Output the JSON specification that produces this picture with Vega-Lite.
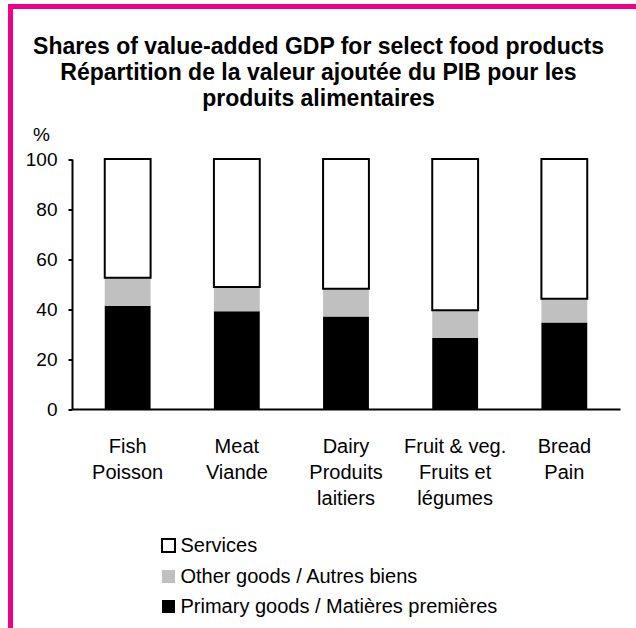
{
  "$schema": "https://vega.github.io/schema/vega-lite/v6.json",
  "autosize": {"type": "none"},
  "width": 636,
  "height": 642,
  "padding": {"left": 10.5, "top": 6.5, "right": -10.5, "bottom": -20.5},
  "background": "white",
  "config": {
    "view": {"stroke": "#EC008C", "strokeWidth": 5, "fill": "white"},
    "font": "Liberation Sans"
  },
  "title": {
    "text": ["Shares of value-added GDP for select food products", "Répartition de la valeur ajoutée du PIB pour les", "produits alimentaires"],
    "font": "Liberation Sans",
    "fontSize": 23,
    "fontWeight": "bold",
    "lineHeight": 26,
    "baseline": "top",
    "offset": -104,
    "anchor": "middle",
    "frame": "group",
    "dx": -10,
    "color": "black"
  },
  "data": {
    "values": [
      {"product": "Fish|Poisson", "series": "Primary goods / Matières premières", "k": 1, "value": 41.3},
      {"product": "Fish|Poisson", "series": "Other goods / Autres biens", "k": 2, "value": 11.2},
      {"product": "Fish|Poisson", "series": "Services", "k": 3, "value": 47.5},
      {"product": "Meat|Viande", "series": "Primary goods / Matières premières", "k": 1, "value": 39.1},
      {"product": "Meat|Viande", "series": "Other goods / Autres biens", "k": 2, "value": 9.7},
      {"product": "Meat|Viande", "series": "Services", "k": 3, "value": 51.2},
      {"product": "Dairy|Produits|laitiers", "series": "Primary goods / Matières premières", "k": 1, "value": 37.0},
      {"product": "Dairy|Produits|laitiers", "series": "Other goods / Autres biens", "k": 2, "value": 11.1},
      {"product": "Dairy|Produits|laitiers", "series": "Services", "k": 3, "value": 51.9},
      {"product": "Fruit & veg.|Fruits et|légumes", "series": "Primary goods / Matières premières", "k": 1, "value": 28.4},
      {"product": "Fruit & veg.|Fruits et|légumes", "series": "Other goods / Autres biens", "k": 2, "value": 11.1},
      {"product": "Fruit & veg.|Fruits et|légumes", "series": "Services", "k": 3, "value": 60.5},
      {"product": "Bread|Pain", "series": "Primary goods / Matières premières", "k": 1, "value": 34.6},
      {"product": "Bread|Pain", "series": "Other goods / Autres biens", "k": 2, "value": 9.5},
      {"product": "Bread|Pain", "series": "Services", "k": 3, "value": 55.9}
    ]
  },
  "mark": {"type": "bar", "stroke": "black"},
  "encoding": {
    "x": {
      "field": "product",
      "type": "nominal",
      "sort": null,
      "scale": {"range": [61.5, 609.5], "paddingInner": 0.58, "paddingOuter": 0.3},
      "axis": {
        "title": null,
        "orient": "bottom",
        "offset": -239.5,
        "labelExpr": "split(datum.label, '|')",
        "labelAngle": 0,
        "labelFont": "Liberation Sans",
        "labelFontSize": 20,
        "labelLineHeight": 26,
        "labelBaseline": "top",
        "labelPadding": 27,
        "labelColor": "black",
        "ticks": false,
        "domainColor": "black",
        "domainWidth": 2,
        "grid": false
      }
    },
    "y": {
      "field": "value",
      "type": "quantitative",
      "stack": "zero",
      "scale": {"domain": [0, 100], "range": [402.5, 152.5], "nice": false, "zero": true},
      "axis": {
        "values": [0, 20, 40, 60, 80, 100],
        "offset": -61.5,
        "title": "%",
        "titleAngle": 0,
        "titleX": -31,
        "titleY": 127.5,
        "titleAlign": "center",
        "titleBaseline": "middle",
        "titleFont": "Liberation Sans",
        "titleFontSize": 19,
        "titleFontWeight": "normal",
        "titleColor": "black",
        "grid": false,
        "domainColor": "black",
        "domainWidth": 2,
        "tickColor": "black",
        "tickWidth": 2,
        "tickSize": 4,
        "labelFont": "Liberation Sans",
        "labelFontSize": 19,
        "labelColor": "black",
        "labelPadding": 11
      }
    },
    "fill": {
      "field": "series",
      "type": "nominal",
      "scale": {
        "domain": ["Services", "Other goods / Autres biens", "Primary goods / Matières premières"],
        "range": ["white", "#c0c0c0", "black"]
      },
      "legend": {
        "orient": "none",
        "legendX": 148,
        "legendY": 529,
        "title": null,
        "padding": 0,
        "symbolType": "square",
        "symbolSize": 169,
        "symbolStrokeColor": "black",
        "symbolOpacity": 1,
        "labelFont": "Liberation Sans",
        "labelFontSize": 20,
        "labelColor": "black",
        "labelOffset": 2,
        "rowPadding": 10,
        "labelLimit": 500,
        "encode": {
          "symbols": {"update": {"strokeWidth": {"signal": "datum.value === 'Services' ? 2 : 0"}, "stroke": {"value": "black"}}}
        }
      }
    },
    "order": {"field": "k", "type": "quantitative"},
    "strokeWidth": {"condition": {"test": "datum.series === 'Services'", "value": 2}, "value": 0}
  }
}
